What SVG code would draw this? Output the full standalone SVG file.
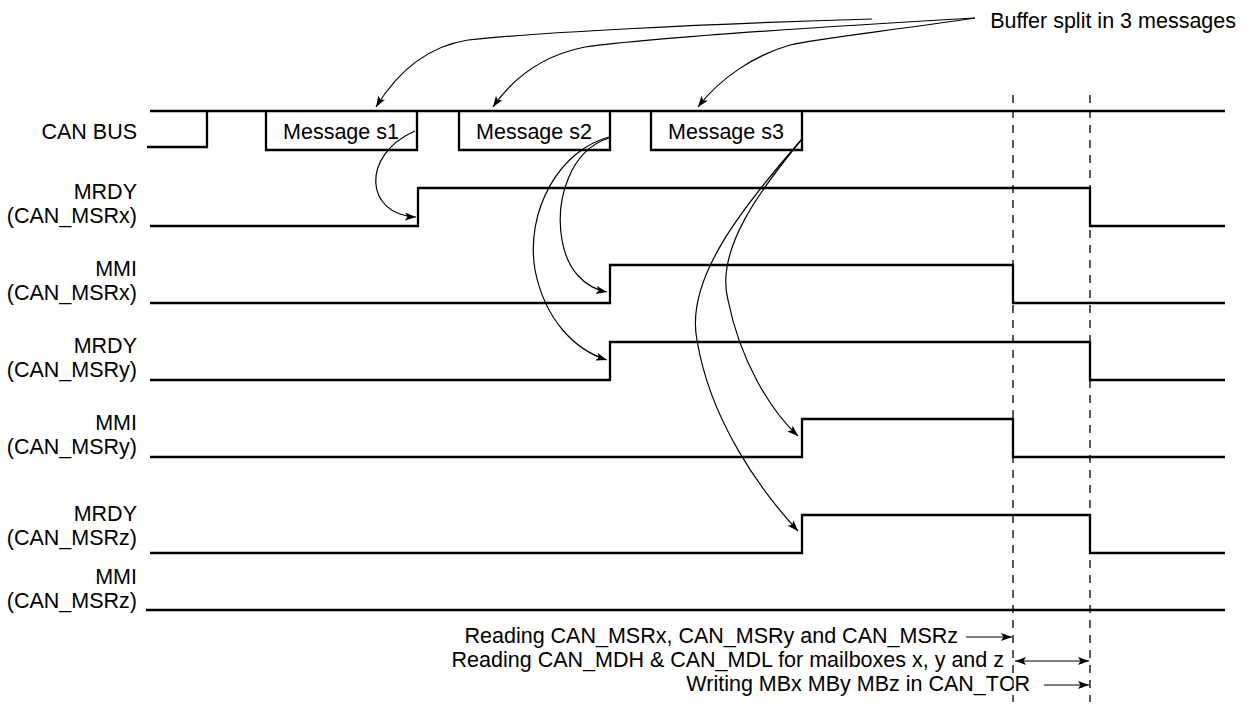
<svg xmlns="http://www.w3.org/2000/svg" width="1250" height="713" viewBox="0 0 1250 713">
<style>
text{font-family:"Liberation Sans",Arial,sans-serif;font-size:21.5px;fill:#000}
.lbl{text-anchor:end}
.mid{text-anchor:middle}
.sig{fill:none;stroke:#000;stroke-width:2.3;stroke-linejoin:miter}
.cur{fill:none;stroke:#000;stroke-width:1.2}
.dash{fill:none;stroke:#000;stroke-width:1.3;stroke-dasharray:8,7}
</style>
<defs>
<marker id="ah" markerUnits="userSpaceOnUse" markerWidth="12" markerHeight="9" refX="11" refY="4" orient="auto">
<path d="M0,0 L11,4 L0,8 L2.5,4 z" fill="#000"/>
</marker>
<marker id="ahs" markerUnits="userSpaceOnUse" markerWidth="12" markerHeight="9" refX="0" refY="4" orient="auto">
<path d="M11,0 L0,4 L11,8 L8.5,4 z" fill="#000"/>
</marker>
</defs>
<rect width="1250" height="713" fill="#fff"/>

<g id="note">
<text x="1236" y="28" class="lbl">Buffer split in 3 messages</text>
</g>

<g id="canbus">
<text x="137" y="139" class="lbl">CAN BUS</text>
<path class="sig" d="M150,111 H1225"/>
<path class="sig" d="M147,147 H207 V111"/>
</g>
<g id="msg-s1">
<path class="sig" d="M266,111 V150 H417 V111"/>
<text x="341" y="139" class="mid">Message s1</text>
</g>
<g id="msg-s2">
<path class="sig" d="M459,111 V150 H610 V111"/>
<text x="534" y="139" class="mid">Message s2</text>
</g>
<g id="msg-s3">
<path class="sig" d="M651,111 V150 H802 V111"/>
<text x="726" y="139" class="mid">Message s3</text>
</g>

<g id="mrdy-x">
<text x="137" y="199" class="lbl">MRDY</text>
<text x="137" y="223" class="lbl">(CAN_MSRx)</text>
<path class="sig" d="M150,226 H418 V188 H1090 V226 H1225"/>
</g>
<g id="mmi-x">
<text x="137" y="276" class="lbl">MMI</text>
<text x="137" y="300" class="lbl">(CAN_MSRx)</text>
<path class="sig" d="M150,303 H610 V265 H1013 V303 H1225"/>
</g>
<g id="mrdy-y">
<text x="137" y="353" class="lbl">MRDY</text>
<text x="137" y="377" class="lbl">(CAN_MSRy)</text>
<path class="sig" d="M150,380 H610 V342 H1090 V380 H1225"/>
</g>
<g id="mmi-y">
<text x="137" y="430" class="lbl">MMI</text>
<text x="137" y="454" class="lbl">(CAN_MSRy)</text>
<path class="sig" d="M150,457 H802 V419 H1013 V457 H1225"/>
</g>
<g id="mrdy-z">
<text x="137" y="521" class="lbl">MRDY</text>
<text x="137" y="545" class="lbl">(CAN_MSRz)</text>
<path class="sig" d="M150,553 H802 V515 H1090 V553 H1225"/>
</g>
<g id="mmi-z">
<text x="137" y="584" class="lbl">MMI</text>
<text x="137" y="608" class="lbl">(CAN_MSRz)</text>
<path class="sig" d="M146,610 H1225"/>
</g>

<g id="markers-time">
<path class="dash" d="M1013,95 V702"/>
<path class="dash" d="M1090,95 V702"/>
<text x="958" y="643" class="lbl">Reading CAN_MSRx, CAN_MSRy and CAN_MSRz</text>
<text x="1004" y="667" class="lbl">Reading CAN_MDH &amp; CAN_MDL for mailboxes x, y and z</text>
<text x="1030" y="691" class="lbl">Writing MBx MBy MBz in CAN_TCR</text>
</g>

<g id="connectors">
<path class="cur" marker-end="url(#ah)" d="M872,19 C700,24 530,33 468,40 C430,46 400,68 376,107"/>
<path class="cur" marker-end="url(#ah)" d="M975,18 C800,28 650,38 585,47 C545,55 515,75 493,107"/>
<path class="cur" marker-end="url(#ah)" d="M975,18 C880,32 820,38 790,45 C755,55 720,78 698,107"/>
<path class="cur" marker-end="url(#ah)" d="M415,131 C360,155 365,215 416,217"/>
<path class="cur" marker-end="url(#ah)" d="M609,138 C570,150 555,200 562,240 C567,270 585,288 607,292"/>
<path class="cur" marker-end="url(#ah)" d="M609,137 C560,150 525,210 535,270 C545,320 575,350 607,360"/>
<path class="cur" marker-end="url(#ah)" d="M802,139 C760,190 715,250 728,300 C740,360 770,410 798,436"/>
<path class="cur" marker-end="url(#ah)" d="M802,139 C740,210 685,280 697,340 C710,420 760,490 798,531"/>
<path class="cur" marker-end="url(#ah)" d="M966,637 H1012"/>
<path class="cur" marker-start="url(#ahs)" marker-end="url(#ah)" d="M1015,661 H1089"/>
<path class="cur" marker-end="url(#ah)" d="M1044,685 H1089"/>
</g>
</svg>
